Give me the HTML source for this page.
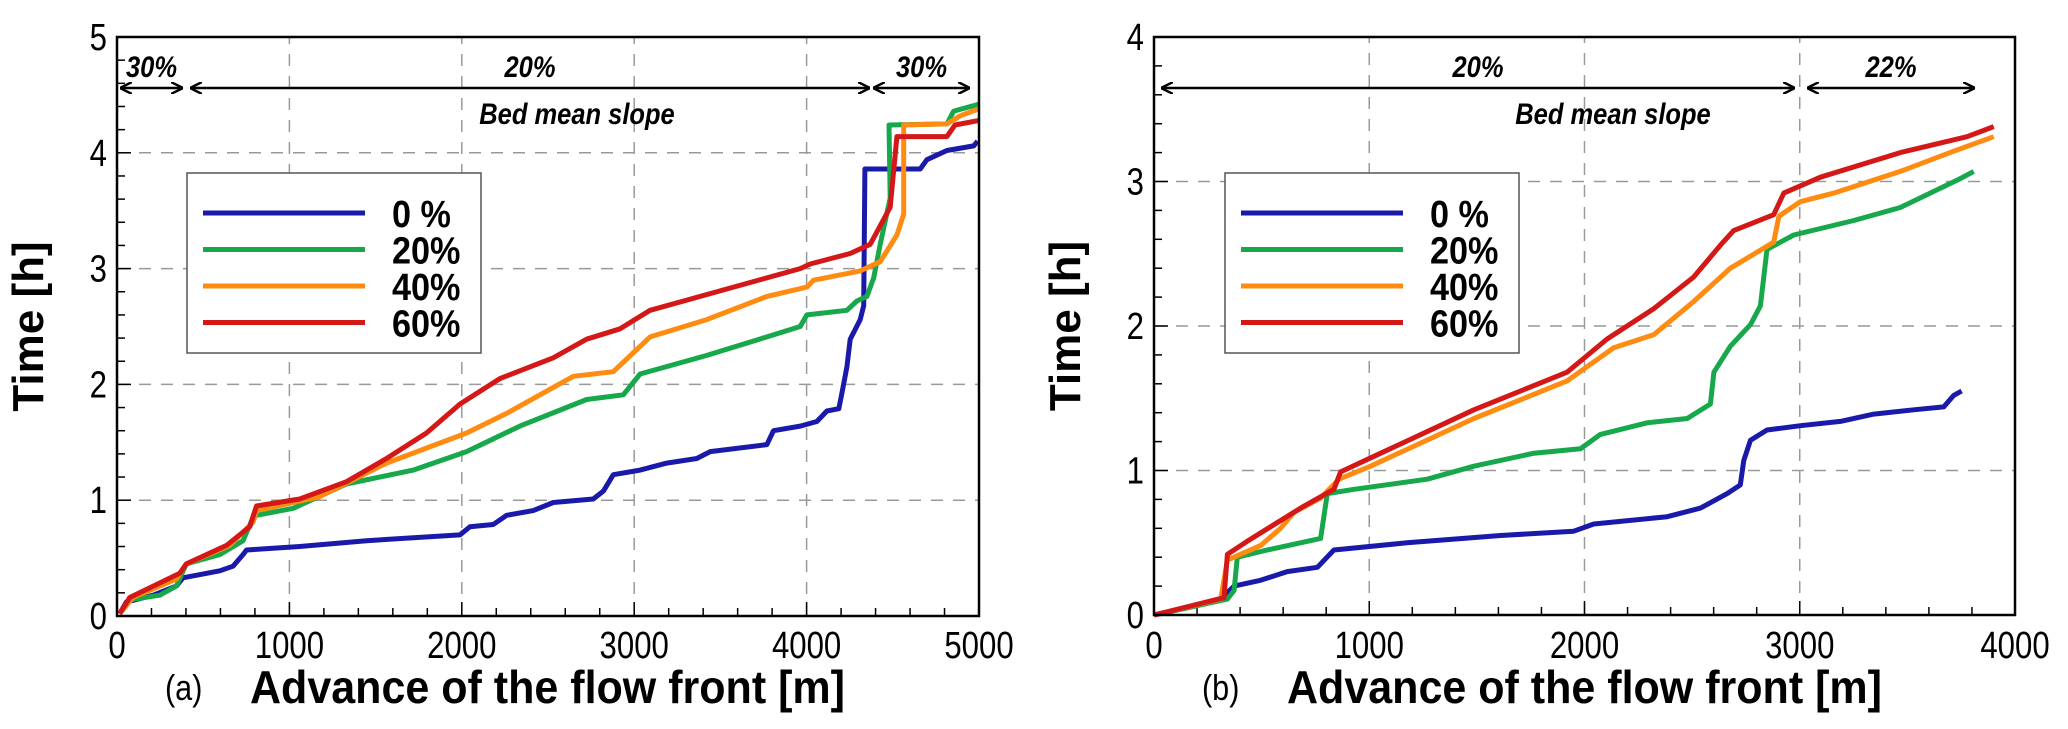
<!DOCTYPE html>
<html><head><meta charset="utf-8"><style>
body{margin:0;background:#fff;}
svg{display:block;font-family:"Liberation Sans",sans-serif;}
</style></head><body>
<svg id="chart" width="2068" height="729" viewBox="0 0 2068 729">
<defs>
<marker id="ah" viewBox="0 0 10 10" refX="10" refY="5" markerWidth="12" markerHeight="12" orient="auto-start-reverse" markerUnits="userSpaceOnUse"><path d="M0,0 L10,5 L0,10" fill="none" stroke="#000" stroke-width="2"/></marker>
</defs>
</svg>
<script>
// ---- Panel (a) data ----
const aBlueX=[15,54,210,345,383,596,673,731,751,1060,1447,1989,2047,2183,2260,2415,2531,2763,2822,2879,3034,3189,3363,3441,3770,3808,3963,4060,4118,4187,4203,4234,4253,4311,4331,4338,4659,4698,4814,4969,4992];
const aBlueY=[0.02,0.12,0.18,0.26,0.33,0.39,0.43,0.53,0.57,0.6,0.65,0.7,0.77,0.79,0.87,0.91,0.98,1.01,1.08,1.22,1.26,1.32,1.36,1.42,1.48,1.6,1.64,1.68,1.77,1.79,1.91,2.15,2.39,2.56,2.68,3.86,3.86,3.94,4.02,4.06,4.1];
const aGreenX=[15,74,248,345,402,596,731,789,809,1022,1331,1718,2028,2337,2724,2937,3034,3421,3770,3963,4002,4234,4292,4350,4389,4427,4485,4478,4814,4853,5000];
const aGreenY=[0.02,0.14,0.18,0.26,0.45,0.53,0.65,0.85,0.87,0.93,1.14,1.26,1.42,1.64,1.87,1.91,2.09,2.25,2.41,2.5,2.6,2.64,2.72,2.76,2.92,3.21,3.61,4.24,4.25,4.36,4.42];
const aOrangeX=[15,93,345,402,654,789,809,1176,1563,2028,2260,2647,2879,3092,3421,3770,4002,4040,4311,4427,4524,4563,4563,4814,4892,5000];
const aOrangeY=[0.02,0.16,0.32,0.45,0.61,0.81,0.91,1.03,1.32,1.58,1.75,2.07,2.11,2.41,2.56,2.76,2.84,2.9,2.98,3.06,3.29,3.47,4.24,4.25,4.32,4.38];
const aRedX=[15,74,364,402,635,770,809,1060,1331,1563,1795,1989,2221,2531,2724,2918,3092,3576,3963,4021,4253,4369,4427,4485,4524,4814,4861,5000];
const aRedY=[0.02,0.16,0.37,0.45,0.61,0.77,0.95,1.01,1.16,1.36,1.58,1.83,2.05,2.23,2.39,2.48,2.64,2.84,3.0,3.04,3.13,3.21,3.37,3.53,4.14,4.14,4.24,4.28];
// ---- Panel (b) data ----
const bBlueX=[0,186,310,372,495,619,759,836,1176,1610,1950,2043,2384,2539,2663,2724,2740,2771,2848,3003,3189,3344,3529,3669,3715,3752];
const bBlueY=[0,0.06,0.11,0.2,0.24,0.3,0.33,0.45,0.5,0.55,0.58,0.63,0.68,0.74,0.84,0.9,1.07,1.21,1.28,1.31,1.34,1.39,1.42,1.44,1.52,1.55];
const bGreenX=[0,341,372,387,526,774,805,929,1269,1486,1765,1981,2074,2291,2477,2585,2601,2678,2771,2817,2848,2972,3251,3467,3746,3808];
const bGreenY=[0,0.11,0.17,0.4,0.45,0.53,0.84,0.87,0.94,1.03,1.12,1.15,1.25,1.33,1.36,1.46,1.68,1.86,2.01,2.14,2.53,2.63,2.73,2.82,3.02,3.07];
const bOrangeX=[0,310,341,495,588,650,774,859,1006,1486,1919,2136,2322,2508,2678,2879,2903,3003,3158,3467,3715,3901];
const bOrangeY=[0,0.11,0.38,0.48,0.6,0.71,0.81,0.94,1.03,1.36,1.62,1.85,1.94,2.17,2.4,2.58,2.76,2.86,2.92,3.07,3.21,3.31];
const bRedX=[0,325,341,433,681,836,867,1053,1486,1919,2105,2322,2508,2632,2693,2879,2926,3096,3467,3777,3901];
const bRedY=[0,0.12,0.42,0.51,0.74,0.87,0.99,1.12,1.42,1.68,1.91,2.12,2.34,2.56,2.66,2.77,2.92,3.03,3.2,3.31,3.38];
const aXTicks=[0,1000,2000,3000,4000,5000];
const aYTicks=[0,1,2,3,4,5];
const bXTicks=[0,1000,2000,3000,4000];
const bYTicks=[0,1,2,3,4];
const legendLabels=["0 %","20%","40%","60%"];
const colors=["#1a1aaa","#16a84a","#ff8c10","#d41818"];

const svg=document.getElementById('chart');
const NS="http://www.w3.org/2000/svg";
function mk(tag,attrs,parent){const e=document.createElementNS(NS,tag);for(const k in attrs)e.setAttribute(k,attrs[k]);(parent||svg).appendChild(e);return e;}

function panel(p){
  const g=mk('g',{});
  
  
  const sx=v=>p.x0+(v-p.xmin)/(p.xmax-p.xmin)*(p.x1-p.x0);
  const sy=v=>p.y0-(v-p.ymin)/(p.ymax-p.ymin)*(p.y0-p.y1);
  p.xt.forEach(t=>{if(t>p.xmin&&t<p.xmax){const l=mk('line',{x1:sx(t),x2:sx(t),y1:p.y0,y2:p.y1,stroke:'#999','stroke-width':1.5,'stroke-dasharray':'12,10'},g);}});
  p.yt.forEach(t=>{if(t>p.ymin&&t<p.ymax){const l=mk('line',{x1:p.x0,x2:p.x1,y1:sy(t),y2:sy(t),stroke:'#999','stroke-width':1.5,'stroke-dasharray':'12,10'},g);}});
  for(let v=p.xmin;v<=p.xmax+1e-6;v+=200){const L=(v%1000===0)?14:8;mk('line',{x1:sx(v),x2:sx(v),y1:p.y0,y2:p.y0-L,stroke:'#000','stroke-width':1.5},g);}
  for(let v=p.ymin;v<=p.ymax+1e-6;v+=0.2){const L=(Math.abs(v-Math.round(v))<1e-6)?14:8;mk('line',{x1:p.x0,x2:p.x0+L,y1:sy(v),y2:sy(v),stroke:'#000','stroke-width':1.5},g);}
  p.series.forEach((s,i)=>{
    const pts=s[0].map((x,j)=>sx(x).toFixed(1)+','+sy(s[1][j]).toFixed(1)).join(' ');
    const pl=mk('polyline',{points:pts,fill:'none',stroke:colors[i],'stroke-width':5,'stroke-linejoin':'round'},g);
    
    
  });
  const fr=mk('rect',{x:p.x0,y:p.y1,width:p.x1-p.x0,height:p.y0-p.y1,fill:'none',stroke:'#000','stroke-width':2.5},g);
  
  p.xt.forEach(t=>{const e=mk('text',{x:0,y:0,transform:`translate(${sx(t)},658) scale(0.82,1)`,'text-anchor':'middle','font-size':38},g);e.textContent=t;});
  p.yt.forEach(t=>{const e=mk('text',{x:0,y:0,transform:`translate(${p.x0-10},${sy(t)+13}) scale(0.82,1)`,'text-anchor':'end','font-size':38},g);e.textContent=t;});
  const yt=mk('text',{x:0,y:0,transform:`translate(${p.x0-74},${(p.y0+p.y1)/2}) rotate(-90)`,'text-anchor':'middle','font-size':44,'font-weight':'bold'},g);
  yt.textContent='Time [h]';
  const xt=mk('text',{x:p.x0+133,y:703,'font-size':46,'font-weight':'bold',textLength:595,lengthAdjust:'spacingAndGlyphs'},g);
  xt.textContent='Advance of the flow front [m]';
  const pl=mk('text',{x:0,y:0,transform:`translate(${p.x0+48},700) scale(0.85,1)`,'font-size':36},g);
  pl.textContent='('+p.id+')';
  p.arrows.forEach(a=>{
    const l=mk('line',{x1:a[0],x2:a[1],y1:88,y2:88,stroke:'#000','stroke-width':2.5,'marker-start':'url(#ah)','marker-end':'url(#ah)'},g);
    
    const t=mk('text',{x:0,y:0,transform:`translate(${(a[0]+a[1])/2},77) scale(0.85,1)`,'text-anchor':'middle','font-size':30,'font-weight':'bold','font-style':'italic'},g);
    t.textContent=a[2];
  });
  const bm=mk('text',{x:0,y:0,transform:`translate(${p.bedX},124) scale(0.85,1)`,'text-anchor':'middle','font-size':30,'font-weight':'bold','font-style':'italic'},g);
  bm.textContent='Bed mean slope';
  const lg=mk('g',{},g);
  mk('rect',{x:p.lx,y:173,width:294,height:180,fill:'#fff',stroke:'#555','stroke-width':1.5},lg);
  legendLabels.forEach((lab,i)=>{
    const y=213+i*36.5;
    const en=mk('g',{},lg);
    mk('line',{x1:p.lx+16,x2:p.lx+178,y1:y,y2:y,stroke:colors[i],'stroke-width':5},en);
    const t=mk('text',{x:0,y:0,transform:`translate(${p.lx+205},${y+14}) scale(0.9,1)`,'font-size':38,'font-weight':'bold'},en);t.textContent=lab;
  });
}
panel({id:'a',x0:117,x1:979,y0:616,y1:37,xmin:0,xmax:5000,ymin:0,ymax:5,xt:aXTicks,yt:aYTicks,
  series:[[aBlueX,aBlueY],[aGreenX,aGreenY],[aOrangeX,aOrangeY],[aRedX,aRedY]],
  arrows:[[120,183,'30%'],[190,870,'20%'],[873,970,'30%']],bedX:577,lx:187});
panel({id:'b',x0:1154,x1:2015,y0:615,y1:37,xmin:0,xmax:4000,ymin:0,ymax:4,xt:bXTicks,yt:bYTicks,
  series:[[bBlueX,bBlueY],[bGreenX,bGreenY],[bOrangeX,bOrangeY],[bRedX,bRedY]],
  arrows:[[1161,1795,'20%'],[1807,1975,'22%']],bedX:1613,lx:1225});
</script>
</body></html>
